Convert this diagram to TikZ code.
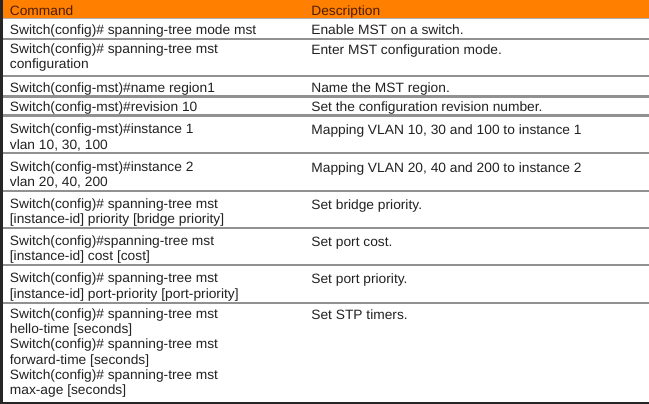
\documentclass[tikz,border=0pt]{standalone}
\usepackage{fontspec}
\setmainfont{Liberation Sans}[FakeStretch=1.02]

\tikzset{every picture/.style={line width=0.75pt}}
\tikzset{
  cell/.style={anchor=north west, inner sep=0pt, align=left, text={rgb, 255:red, 34; green, 34; blue, 34 },
    font=\fontsize{13.5}{15.2}\selectfont, execute at begin node={\strut}},
  headcell/.style={cell, text={rgb, 255:red, 80; green, 30; blue, 0 }},
  rowline/.style={draw={rgb, 255:red, 145; green, 145; blue, 145 }, line width=2.2pt}
}

\begin{document}
\begin{tikzpicture}[x=1pt,y=1pt,yscale=-1,xscale=1]
%uncomment if require:
\useasboundingbox (0,0) rectangle (649,404);
%set diagram left start at 0, and has height of 404

%Shape: Rectangle [id:header]
\fill [fill={rgb, 255:red, 255; green, 128; blue, 0 }] (0,0) rectangle (649,18.5);
%Shape: Rectangle [id:body]
\fill [fill={rgb, 255:red, 255; green, 255; blue, 255 }] (0,18.5) rectangle (649,404);

%Straight Lines [id:rows]
\draw [rowline, line width=1.6pt, draw={rgb, 255:red, 175; green, 175; blue, 175 }] (0,18.5) -- (649,18.5);
\foreach \ry in {38.7,76,96.5,115.5,153.3,190.7,228.3,265,303}
  \draw [rowline] (0,\ry) -- (649,\ry);

%Shape: Rectangle [id:leftedge]
\fill [fill={rgb, 255:red, 38; green, 38; blue, 38 }] (0,0) rectangle (3,404);
%Shape: Rectangle [id:bottomedge]
\fill [fill={rgb, 255:red, 38; green, 38; blue, 38 }] (0,402) rectangle (649,404);

% Text Node
\node [headcell] (cmdHead) at (9.5,4.4) {Command};
% Text Node
\node [headcell] (descHead) at (311,4.4) {Description};

% Text Node
\node [cell] (cmdMode) at (9.5,23.7) {Switch(config)\# spanning-tree mode mst};
\node [cell] (descMode) at (311,23.7) {Enable MST on a switch.};
% Text Node
\node [cell] (cmdConf) at (9.5,43.4) {Switch(config)\# spanning-tree mst\\configuration};
\node [cell] (descConf) at (311,43.4) {Enter MST configuration mode.};
% Text Node
\node [cell] (cmdName) at (9.5,81.1) {Switch(config-mst)\#name region1};
\node [cell] (descName) at (311,81.1) {Name the MST region.};
% Text Node
\node [cell] (cmdRev) at (9.5,100.1) {Switch(config-mst)\#revision 10};
\node [cell] (descRev) at (311,100.1) {Set the configuration revision number.};
% Text Node
\node [cell] (cmdInstA) at (9.5,123.7) {Switch(config-mst)\#instance 1\\vlan 10, 30, 100};
\node [cell] (descInstA) at (311,123.7) {Mapping VLAN 10, 30 and 100 to instance 1};
% Text Node
\node [cell] (cmdInstB) at (9.5,161.1) {Switch(config-mst)\#instance 2\\vlan 20, 40, 200};
\node [cell] (descInstB) at (311,161.1) {Mapping VLAN 20, 40 and 200 to instance 2};
% Text Node
\node [cell] (cmdPrio) at (9.5,198.4) {Switch(config)\# spanning-tree mst\\{[}instance-id{]} priority {[}bridge priority{]}};
\node [cell] (descPrio) at (311,198.4) {Set bridge priority.};
% Text Node
\node [cell] (cmdCost) at (9.5,235.4) {Switch(config)\#spanning-tree mst\\{[}instance-id{]} cost {[}cost{]}};
\node [cell] (descCost) at (311,235.4) {Set port cost.};
% Text Node
\node [cell] (cmdPort) at (9.5,272.7) {Switch(config)\# spanning-tree mst\\{[}instance-id{]} port-priority {[}port-priority{]}};
\node [cell] (descPort) at (311,272.7) {Set port priority.};
% Text Node
\node [cell] (cmdTimer) at (9.5,308.4) {Switch(config)\# spanning-tree mst\\hello-time {[}seconds{]}\\Switch(config)\# spanning-tree mst\\forward-time {[}seconds{]}\\Switch(config)\# spanning-tree mst\\max-age {[}seconds{]}};
\node [cell] (descTimer) at (311,308.4) {Set STP timers.};

\end{tikzpicture}
\end{document}
